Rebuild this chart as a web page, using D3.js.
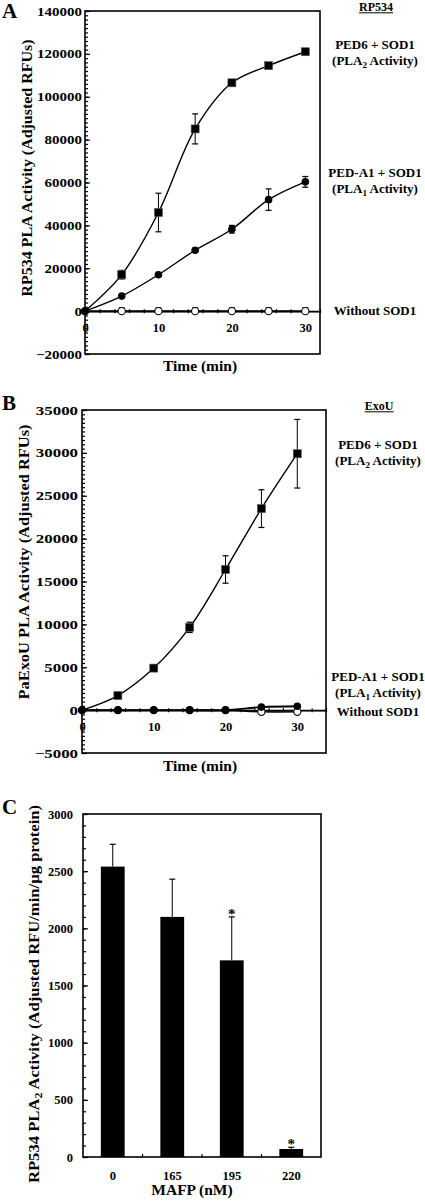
<!DOCTYPE html>
<html><head><meta charset="utf-8">
<script src="https://cdn.jsdelivr.net/npm/d3@7"></script>
<style>
body{margin:0;background:#fff}
svg{display:block}
text{font-family:"Liberation Serif","Times New Roman",serif;font-weight:bold;fill:#000}
</style>
</head><body>
<svg id="c" width="425" height="1202"></svg>
<script>
// ---------- DATA ----------
const timeMin = [0, 5, 10, 15, 20, 25, 30];
const xTickLabels = [0, 10, 20, 30];

// Panel A (RP534)
const aPed6 = [0, 17000, 46000, 85000, 106500, 114500, 121000];
const aPed6Err = [0, 2000, 9000, 7000, 1000, 1000, 1200];
const aPedA1 = [0, 7000, 17000, 28400, 38200, 52000, 60300];
const aPedA1Err = [0, 600, 700, 900, 1800, 5000, 2500];
const aNoSod = [0, 0, 0, 0, 0, 0, 0];
const aNoSodErr = [0, 1500, 1500, 1500, 1500, 1500, 1500];
const aYTicks = [-20000, 0, 20000, 40000, 60000, 80000, 100000, 120000, 140000];

// Panel B (ExoU)
const bPed6 = [0, 1700, 4900, 9650, 16400, 23500, 29900];
const bPed6Err = [0, 200, 300, 600, 1600, 2200, 4000];
const bPedA1 = [0, 0, 0, 0, 0, 350, 450];
const bPedA1Err = [0, 100, 100, 100, 100, 150, 150];
const bNoSod = [0, 0, 0, 0, 0, -200, -200];
const bYTicks = [-5000, 0, 5000, 10000, 15000, 20000, 25000, 30000, 35000];

// Panel C (MAFP)
const mafp = ["0", "165", "195", "220"];
const cActivity = [2540, 2100, 1720, 70];
const cErr = [195, 330, 380, 15];
const cSignificant = [false, false, true, true];
const cYTicks = [0, 500, 1000, 1500, 2000, 2500, 3000];

// ---------- DRAWING ----------
const svg = d3.select('#c');
const FONT_T = 12.5;

function errBar(g, x, yTop, yBot, cap) {
  g.append('line').attr('x1', x).attr('x2', x).attr('y1', yTop).attr('y2', yBot).attr('stroke', '#000').attr('stroke-width', 1);
  g.append('line').attr('x1', x - cap).attr('x2', x + cap).attr('y1', yTop).attr('y2', yTop).attr('stroke', '#000').attr('stroke-width', 1.2);
  if (yBot !== null) g.append('line').attr('x1', x - cap).attr('x2', x + cap).attr('y1', yBot).attr('y2', yBot).attr('stroke', '#000').attr('stroke-width', 1.2);
}

function subText(g, x, y, pre, sub, post, size) {
  const t = g.append('text').attr('x', x).attr('y', y).attr('text-anchor', 'middle').style('font-size', size + 'px');
  t.append('tspan').text(pre);
  t.append('tspan').attr('dy', 3).style('font-size', (size * 0.7) + 'px').text(sub);
  t.append('tspan').attr('dy', -3).text(post);
  return t;
}

function linePanel(o) {
  const g = svg.append('g');
  const x = d3.scaleLinear().domain(o.xDomain).range([o.l, o.r]);
  const y = d3.scaleLinear().domain(o.yDomain).range([o.b, o.t]);
  const y0 = y(0);

  // x axis at zero
  const minorX = d3.range(0, o.xDomain[1] + 0.001, 2);
  const xMinor = d3.axisBottom(x).tickValues(minorX).tickSizeInner(2).tickSizeOuter(0).tickFormat('');
  g.append('g').attr('transform', `translate(0,${y0})`).call(xMinor)
    .call(s => s.selectAll('.tick line').attr('y1', -2).attr('stroke-width', 1.2));
  const xAx = d3.axisBottom(x).tickValues(xTickLabels).tickSizeInner(3).tickSizeOuter(0).tickPadding(9).tickFormat(d3.format('d'));
  g.append('g').attr('transform', `translate(0,${y0})`).call(xAx)
    .call(s => s.select('.domain').attr('stroke-width', 1.6))
    .call(s => s.selectAll('.tick line').attr('y1', -3).attr('stroke-width', 1.2))
    .call(s => s.selectAll('text').style('font-size', FONT_T + 'px'));

  // y axis
  const minorY = d3.range(o.yDomain[0], o.yDomain[1] + 0.001, o.yMinor);
  const yMinor = d3.axisLeft(y).tickValues(minorY).tickSizeInner(-3).tickSizeOuter(0).tickFormat('');
  g.append('g').attr('transform', `translate(${o.l},0)`).call(yMinor)
    .call(s => s.select('.domain').remove())
    .call(s => s.selectAll('.tick line').attr('stroke-width', 1.2));
  const yAx = d3.axisLeft(y).tickValues(o.yTicks).tickSizeInner(-5).tickSizeOuter(0).tickPadding(o.yPad).tickFormat(d3.format('d'));
  g.append('g').attr('transform', `translate(${o.l},0)`).call(yAx)
    .call(s => s.select('.domain').remove())
    .call(s => s.selectAll('.tick line').attr('stroke-width', 1.2))
    .call(s => s.selectAll('text').style('font-size', o.yFont + 'px')
      .attr('transform', `scale(${o.sx},1)`).attr('x', -o.yPad / o.sx));

  // box
  g.append('rect').attr('x', o.l).attr('y', o.t).attr('width', o.r - o.l).attr('height', o.b - o.t)
    .attr('fill', 'none').attr('stroke', '#000').attr('stroke-width', 1.6);

  const line = d3.line().x((d, i) => x(timeMin[i])).y(d => y(d)).curve(d3.curveCatmullRom.alpha(0.5));

  o.series.forEach(s => {
    g.append('path').attr('d', line(s.values)).attr('fill', 'none').attr('stroke', '#000').attr('stroke-width', s.width || 1.4);
    if (s.err) s.values.forEach((v, i) => {
      if (s.err[i] > 0) errBar(g, x(timeMin[i]), y(v + s.err[i]), s.upOnly ? y(v) : y(v - s.err[i]), 3);
    });
    s.values.forEach((v, i) => {
      if (s.skipFirst && i === 0) return;
      const cx = x(timeMin[i]), cy = y(v);
      if (s.marker === 'square') {
        g.append('rect').attr('x', cx - 4).attr('y', cy - 4).attr('width', 8).attr('height', 8).attr('fill', '#000').attr('stroke', '#555').attr('stroke-width', 0.6);
      } else if (s.marker === 'circle') {
        g.append('circle').attr('cx', cx).attr('cy', cy).attr('r', 3.8).attr('fill', '#000');
      } else {
        g.append('circle').attr('cx', cx).attr('cy', cy).attr('r', 3.6).attr('fill', '#fff').attr('stroke', '#000').attr('stroke-width', 1.1);
      }
    });
  });

  // panel letter
  g.append('text').attr('x', 2).attr('y', o.letterY).style('font-size', '21px').text(o.letter);
  // axis titles
  g.append('text').attr('transform', `translate(${o.titleX},${o.titleY}) rotate(-90)`).attr('text-anchor', 'middle')
    .style('font-size', '15.5px').attr('textLength', o.titleLen).attr('lengthAdjust', 'spacingAndGlyphs').text(o.title);
  g.append('text').attr('x', 200).attr('y', o.timeY).attr('text-anchor', 'middle').style('font-size', '15.5px').text('Time (min)');

  // right labels
  const rt = g.append('text').attr('x', o.hx).attr('y', o.headY).attr('text-anchor', 'middle').style('font-size', '12px').text(o.head);
  const bb = rt.node().getBBox();
  g.append('line').attr('x1', bb.x).attr('x2', bb.x + bb.width).attr('y1', o.headY + 1.8).attr('y2', o.headY + 1.8).attr('stroke', '#000').attr('stroke-width', 1);
  g.append('text').attr('x', o.rx).attr('y', o.l1Y).attr('text-anchor', 'middle').style('font-size', '13px').text('PED6 + SOD1');
  subText(g, o.rx, o.l1Y + 16, '(PLA', '2', ' Activity)', 13);
  g.append('text').attr('x', o.rx).attr('y', o.l2Y).attr('text-anchor', 'middle').style('font-size', '13px').text('PED-A1 + SOD1');
  subText(g, o.rx, o.l2Y + 16, '(PLA', '1', ' Activity)', 13);
  g.append('text').attr('x', o.rx).attr('y', o.l3Y).attr('text-anchor', 'middle').style('font-size', '13px').text('Without SOD1');
}

linePanel({
  l: 85, r: 320, t: 11, b: 354, xDomain: [0, 32], yDomain: [-20000, 140000], yTicks: aYTicks, yMinor: 2000,
  yPad: 3, sx: 1.2, yFont: 12.5,
  series: [
    { values: aPed6, err: aPed6Err, marker: 'square', skipFirst: true },
    { values: aNoSod, err: aNoSodErr, marker: 'open', upOnly: true, width: 1.8 },
    { values: aPedA1, err: aPedA1Err, marker: 'circle' }
  ],
  letter: 'A', letterY: 18, title: 'RP534 PLA Activity (Adjusted RFUs)', titleX: 32, titleY: 168, titleLen: 257,
  timeY: 371, rx: 375, hx: 376, head: 'RP534', headY: 11, l1Y: 49, l2Y: 177, l3Y: 315
});

linePanel({
  l: 82, r: 326, t: 410, b: 753, xDomain: [0, 34], yDomain: [-5000, 35000], yTicks: bYTicks, yMinor: 500,
  yPad: 4, sx: 1.35, yFont: 12.5,
  series: [
    { values: bPed6, err: bPed6Err, marker: 'square', skipFirst: true },
    { values: bNoSod, marker: 'open', width: 1.4 },
    { values: bPedA1, err: bPedA1Err, marker: 'circle', width: 1.8 }
  ],
  letter: 'B', letterY: 410, title: 'PaExoU PLA Activity (Adjusted RFUs)', titleX: 29, titleY: 562, titleLen: 275,
  timeY: 771, rx: 378, hx: 379, head: 'ExoU', headY: 410, l1Y: 449, l2Y: 681, l3Y: 716
});

// Panel C
(function () {
  const g = svg.append('g');
  const l = 83, r = 321, t = 814, b = 1157;
  const x = d3.scaleBand().domain(mafp).range([l, r]).paddingInner(0.6).paddingOuter(0.3);
  const y = d3.scaleLinear().domain([0, 3000]).range([b, t]);

  const yMinor = d3.axisLeft(y).tickValues(d3.range(0, 3001, 100)).tickSizeInner(-3).tickSizeOuter(0).tickFormat('');
  g.append('g').attr('transform', `translate(${l},0)`).call(yMinor)
    .call(s => s.select('.domain').remove()).call(s => s.selectAll('.tick line').attr('stroke-width', 1.2));
  const yAx = d3.axisLeft(y).tickValues(cYTicks).tickSizeInner(-5).tickSizeOuter(0).tickPadding(10).tickFormat(d3.format('d'));
  g.append('g').attr('transform', `translate(${l},0)`).call(yAx)
    .call(s => s.select('.domain').remove()).call(s => s.selectAll('.tick line').attr('stroke-width', 1.2))
    .call(s => s.selectAll('text').style('font-size', '12.5px'));

  // x axis ticks at category boundaries
  const step = x.step();
  g.selectAll('.xb').data(mafp.slice(1)).join('line')
    .attr('x1', d => x(d) - (step - x.bandwidth()) / 2).attr('x2', d => x(d) - (step - x.bandwidth()) / 2)
    .attr('y1', b).attr('y2', b - 3).attr('stroke', '#000').attr('stroke-width', 1.2);
  g.selectAll('.xl').data(mafp).join('text').attr('x', d => x(d) + x.bandwidth() / 2).attr('y', 1180)
    .attr('text-anchor', 'middle').style('font-size', '12.5px').text(d => d);

  // bars
  g.selectAll('.bar').data(cActivity).join('rect')
    .attr('x', (d, i) => x(mafp[i])).attr('width', x.bandwidth())
    .attr('y', d => y(d)).attr('height', d => b - y(d)).attr('fill', '#000');
  cActivity.forEach((v, i) => {
    const cx = x(mafp[i]) + x.bandwidth() / 2;
    g.append('line').attr('x1', cx).attr('x2', cx).attr('y1', y(v)).attr('y2', y(v + cErr[i])).attr('stroke', '#000').attr('stroke-width', 1);
    g.append('line').attr('x1', cx - 3).attr('x2', cx + 3).attr('y1', y(v + cErr[i])).attr('y2', y(v + cErr[i])).attr('stroke', '#000').attr('stroke-width', 1.2);
    if (cSignificant[i]) g.append('text').attr('x', cx).attr('y', y(v + cErr[i]) + 2).attr('text-anchor', 'middle').style('font-size', '15px').style('fill', '#000').text('*');
  });

  g.append('rect').attr('x', l).attr('y', t).attr('width', r - l).attr('height', b - t)
    .attr('fill', 'none').attr('stroke', '#000').attr('stroke-width', 1.6);

  g.append('text').attr('x', 2).attr('y', 814).style('font-size', '21px').text('C');
  const tt = g.append('text').attr('transform', 'translate(39,994) rotate(-90)').attr('text-anchor', 'middle')
    .style('font-size', '15.5px').attr('textLength', 378).attr('lengthAdjust', 'spacingAndGlyphs');
  tt.append('tspan').text('RP534 PLA');
  tt.append('tspan').attr('dy', 3).style('font-size', '11px').text('2');
  tt.append('tspan').attr('dy', -3).text(' Activity (Adjusted RFU/min/µg protein)');
  g.append('text').attr('x', 192).attr('y', 1195).attr('text-anchor', 'middle').style('font-size', '15.5px').text('MAFP (nM)');
})();
</script>
</body></html>
